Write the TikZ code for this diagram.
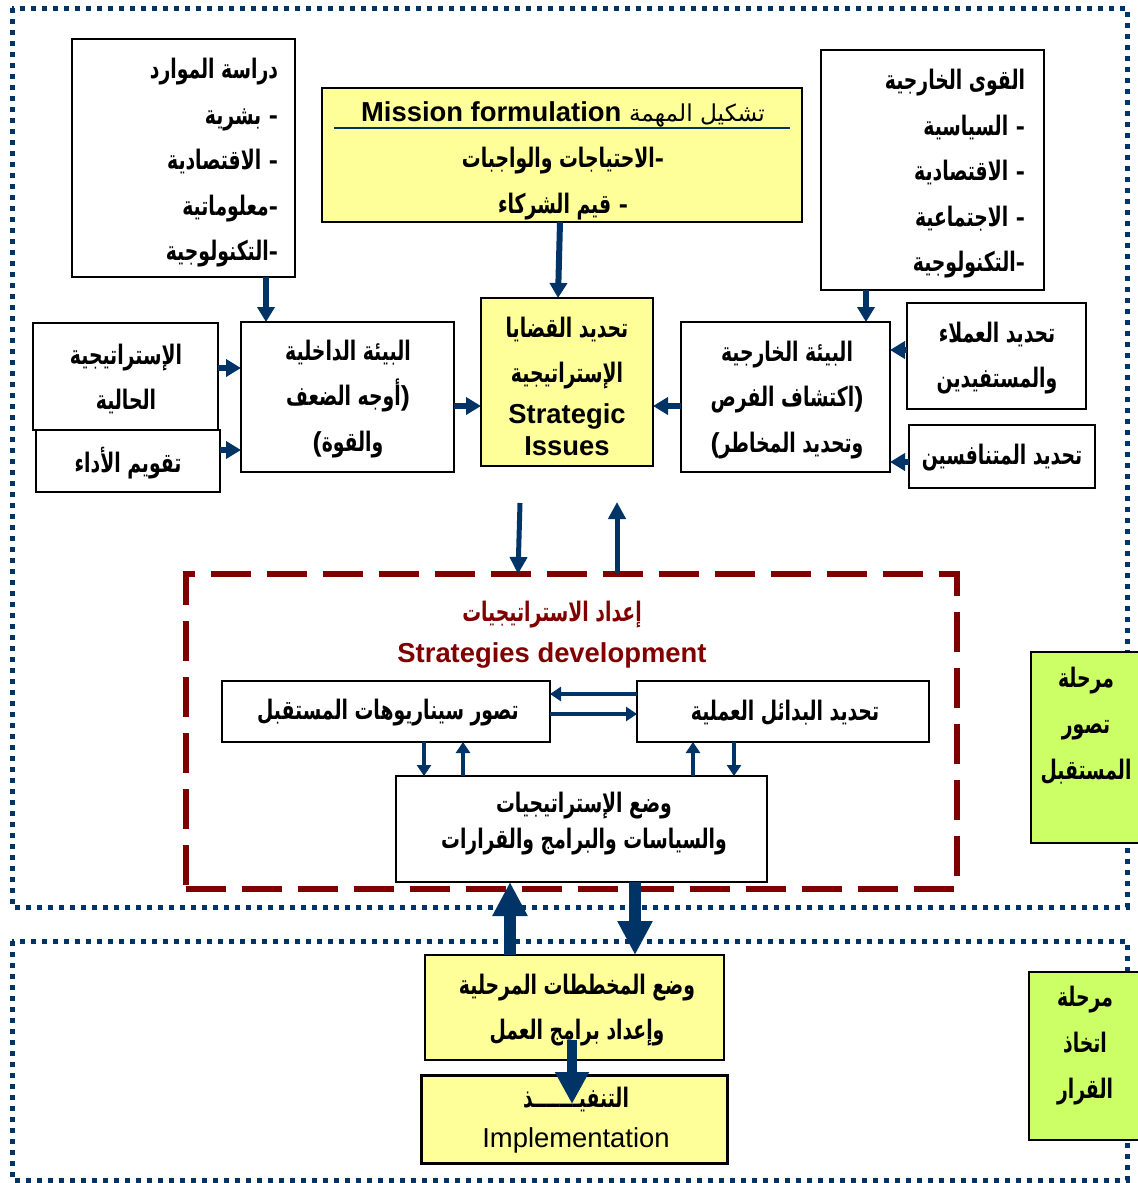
\documentclass[tikz,border=0pt]{standalone}
\usepackage{fontspec}
\setmainfont{Liberation Sans}
\newfontfamily\arabicfont[Script=Arabic,Scale=0.98,FakeStretch=0.70]{DejaVu Sans}
\newfontfamily\arabicwide[Script=Arabic,Scale=0.85]{DejaVu Sans}
\TeXXeTstate=1
\usetikzlibrary{arrows.meta}
\newcommand\artx[1]{{\arabicfont\beginR #1\endR}}
\newcommand\artxwide[1]{{\arabicwide\beginR #1\endR}}
\definecolor{navy}{RGB}{0,51,102}
\definecolor{maroon}{RGB}{128,0,0}
\definecolor{paleyellow}{RGB}{255,255,153}
\definecolor{limegreen}{RGB}{204,255,102}
\begin{document}
\begin{tikzpicture}[x=0.5pt,y=-0.5pt,
  every node/.style={inner sep=0pt,outer sep=0pt},
  box/.style={draw=black,line width=0.6pt,fill=white},
  ybox/.style={box,fill=paleyellow},
  gbox/.style={draw=black,line width=1.2pt,fill=limegreen},
  txt/.style={font=\bfseries\fontsize{13.7}{#1}\selectfont,align=center},
  txt/.default=22.75,
  frame/.style={draw=navy,line width=2.5pt,dash pattern=on 2.5pt off 3pt},
  arr/.style={draw=navy,line width=3pt,-{Triangle[length=7.5pt,width=8.5pt]}},
  sarr/.style={draw=navy,line width=2.3pt,-{Triangle[length=5.5pt,width=7pt]}},
  marr/.style={draw=navy,line width=2.5pt,-{Triangle[length=8.5pt,width=8.5pt]}},
  barr/.style={draw=navy,line width=6pt,-{Triangle[length=17pt,width=16.5pt]}},
  barrow/.style={draw=navy,line width=5pt,-{Triangle[length=16pt,width=16pt]}},
]
\useasboundingbox (0,0) rectangle (1138,1183);

% phase frames
\draw[frame] (12,8) rectangle (1127,907);
\draw[frame] (12,941) rectangle (1127,1180);

% ---------- analysis ----------
\node[box,minimum width=111.5pt,minimum height=119pt] (res) at (183.5,158) {};
\node[txt,anchor=east,align=right] (resT) at (278,163)
  {\artx{دراسة الموارد}\\ \artx{بشرية}~-\\ \artx{الاقتصادية}~-\\ \artx{معلوماتية}-\\ \artx{التكنولوجية}-};

\node[ybox,line width=1pt,minimum width=240pt,minimum height=67pt] (mis) at (562,155) {};
\node[txt] (misT) at (563,114) {Mission formulation \artxwide{\mdseries تشكيل المهمة}};
\draw[navy,line width=0.8pt] (334,128) -- (790,128);
\node[txt=23] (misL) at (563,184) {\artx{الاحتياجات والواجبات}-\\ \artx{قيم الشركاء}~-};

\node[box,minimum width=111.5pt,minimum height=120pt] (ext) at (932.5,170) {};
\node[txt,anchor=east,align=right] (extT) at (1025,174)
  {\artx{القوى الخارجية}\\ \artx{السياسية}~-\\ \artx{الاقتصادية}~-\\ \artx{الاجتماعية}~-\\ \artx{التكنولوجية}-};

\node[box,minimum width=92.5pt,minimum height=53.5pt] (cur) at (125.5,376.5) {};
\node[txt] (curT) at (126,379) {\artx{الإستراتيجية}\\ \artx{الحالية}};
\node[box,minimum width=92pt,minimum height=31pt] (eva) at (128,461) {};
\node[txt] (evaT) at (128,463) {\artx{تقويم الأداء}};

\node[box,minimum width=106.5pt,minimum height=75pt] (inn) at (347.5,397) {};
\node[txt] (innT) at (348,399) {\artx{البيئة الداخلية}\\ \artx{أوجه الضعف})\\ (\artx{والقوة}};

\node[ybox,minimum width=86pt,minimum height=84pt] (iss) at (567,382) {};
\node[txt] (issA) at (567,353) {\artx{تحديد القضايا}\\ \artx{الإستراتيجية}};
\node[txt=16] (issE) at (567,430) {Strategic\\ Issues};

\node[box,minimum width=104.5pt,minimum height=75pt] (out) at (785.5,397) {};
\node[txt] (outT) at (787,400) {\artx{البيئة الخارجية}\\ \artx{اكتشاف الفرص})\\ (\artx{وتحديد المخاطر}};

\node[box,minimum width=89.5pt,minimum height=53pt] (cli) at (996.5,356) {};
\node[txt] (cliT) at (997,358) {\artx{تحديد العملاء}\\ \artx{والمستفيدين}};
\node[box,minimum width=93pt,minimum height=31.5pt] (com) at (1002,456.5) {};
\node[txt] (comT) at (1002,458) {\artx{تحديد المتنافسين}};

% ---------- strategies development ----------
\node[draw=maroon,line width=3pt,dash pattern=on 20pt off 8pt,
      minimum width=385.5pt,minimum height=157.5pt] (dev) at (571.5,731.5) {};
\node[txt,text=maroon] (devA) at (552,615) {\artx{إعداد الاستراتيجيات}};
\node[txt,text=maroon] (devE) at (552,655) {Strategies development};

\node[box,minimum width=164pt,minimum height=30.5pt] (sce) at (386,711.5) {};
\node[txt] (sceT) at (388,713) {\artx{تصور سيناريوهات المستقبل}};
\node[box,minimum width=146pt,minimum height=30.5pt] (alt) at (783,711.5) {};
\node[txt] (altT) at (785,713) {\artx{تحديد البدائل العملية}};
\node[box,minimum width=185.5pt,minimum height=53pt] (pol) at (581.5,829) {};
\node[txt=18] (polT) at (584,824) {\artx{وضع الإستراتيجيات}\\ \artx{والسياسات والبرامج والقرارات}};

% ---------- decision ----------
\node[ybox,minimum width=149.5pt,minimum height=52.5pt] (pla) at (574.5,1007.5) {};
\node[txt] (plaT) at (577,1010) {\artx{وضع المخططات المرحلية}\\ \artx{وإعداد برامج العمل}};
\node[ybox,line width=1.5pt,minimum width=153pt,minimum height=44pt] (imp) at (574,1119) {};
\node[txt=20] (impT) at (576,1120) {\artx{التنفيـــــــذ}\\ \mdseries Implementation};

% phase labels
\node[gbox,minimum width=59.5pt,minimum height=95.5pt] (ph1) at (1090.5,747.5) {};
\node[txt=23] (ph1T) at (1086,726) {\artx{مرحلة}\\ \artx{تصور}\\ \artx{المستقبل}};
\node[gbox,minimum width=60.5pt,minimum height=84pt] (ph2) at (1089.5,1056) {};
\node[txt=23] (ph2T) at (1085,1046) {\artx{مرحلة}\\ \artx{اتخاذ}\\ \artx{القرار}};

% ---------- connectors ----------
\draw[arr] (266,0 |- res.south) -- (266,0 |- inn.north);
\draw[arr] (560,0 |- mis.south) -- (558,0 |- iss.north);
\draw[arr] (866,0 |- ext.south) -- (866,0 |- out.north);
\draw[arr] (cur.east |- 0,368) -- (inn.west |- 0,368);
\draw[arr] (eva.east |- 0,450) -- (inn.west |- 0,450);
\draw[arr] (inn.east |- 0,406) -- (iss.west |- 0,406);
\draw[arr] (out.west |- 0,406) -- (iss.east |- 0,406);
\draw[arr] (cli.west |- 0,350) -- (out.east |- 0,350);
\draw[arr] (com.west |- 0,462) -- (out.east |- 0,462);

\coordinate (issDown) at (520,503);
\coordinate (issUp) at (617,502);
\draw[marr] (issDown) -- (518,0 |- dev.north);
\draw[marr] (617,0 |- dev.north) -- (issUp);

\draw[sarr] (alt.west |- 0,694) -- (sce.east |- 0,694);
\draw[sarr] (sce.east |- 0,714) -- (alt.west |- 0,714);
\draw[sarr] (424,0 |- sce.south) -- (424,0 |- pol.north);
\draw[sarr] (463,0 |- pol.north) -- (463,0 |- sce.south);
\draw[sarr] (693,0 |- pol.north) -- (693,0 |- alt.south);
\draw[sarr] (734,0 |- alt.south) -- (734,0 |- pol.north);

\draw[barr] (510,0 |- pla.north) -- (510,0 |- pol.south);
\draw[barr] (635,0 |- pol.south) -- (635,0 |- pla.north);
\coordinate (plaIn) at (572,1040);
\coordinate (impIn) at (572,1104);
\draw[barrow] (plaIn) -- (impIn);
\end{tikzpicture}
\end{document}
